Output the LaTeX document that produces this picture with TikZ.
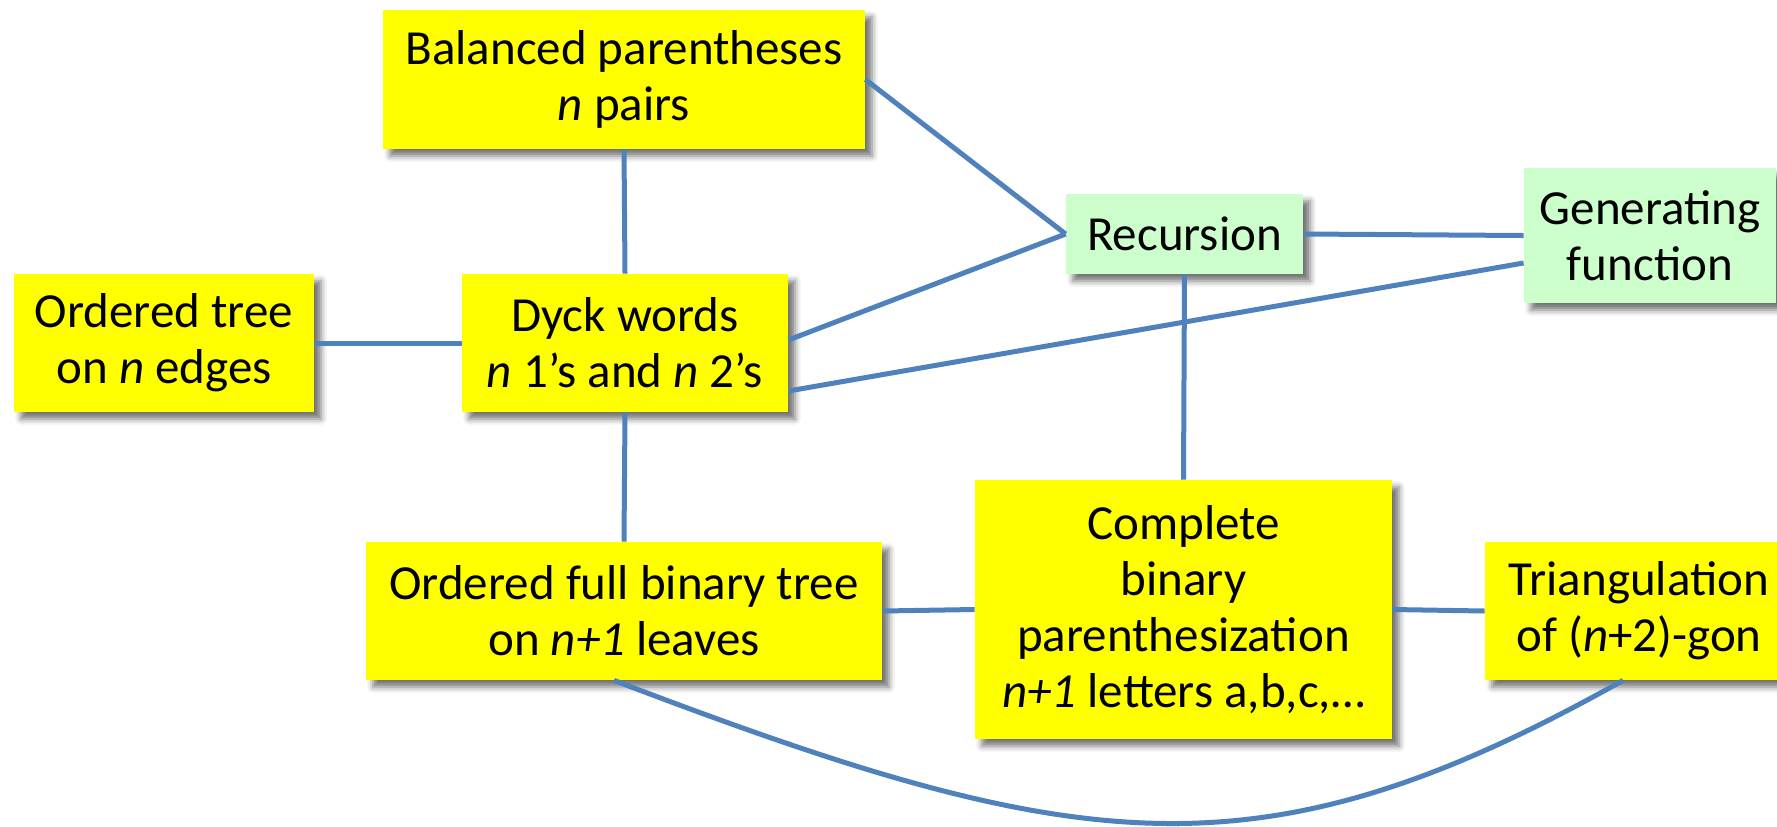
\documentclass[tikz,border=0pt]{standalone}
\usepackage{fontspec}
\setmainfont{Carlito}
\usetikzlibrary{shadows.blur}
\definecolor{boxyellow}{RGB}{255,255,0}
\definecolor{boxgreen}{RGB}{204,255,204}
\definecolor{linkblue}{RGB}{79,129,189}
\begin{document}
\begin{tikzpicture}[x=0.5pt,y=-0.5pt,
  box/.style={rectangle, inner sep=0pt, align=center,
    font=\fontsize{24.5}{28}\selectfont,
    blur shadow={shadow xshift=3.5pt, shadow yshift=-3.5pt, shadow blur radius=3pt, shadow opacity=55}},
  ybox/.style={box, fill=boxyellow},
  gbox/.style={box, fill=boxgreen},
  link/.style={draw=linkblue, line width=2.5pt}]
\useasboundingbox (0,0) rectangle (1777,826);

% concepts
\node[ybox, minimum width=241pt, minimum height=69.5pt] (bal) at (624,79.5)
  {Balanced parentheses\\\textit{n} pairs};
\node[ybox, minimum width=150pt, minimum height=69pt] (otree) at (164,343)
  {Ordered tree\\on \textit{n} edges};
\node[ybox, minimum width=163pt, minimum height=69pt] (dyck) at (625,343)
  {Dyck words\\\textit{n} 1’s and \textit{n} 2’s};
\node[gbox, minimum width=118.5pt, minimum height=40pt] (rec) at (1184.5,234)
  {Recursion};
\node[gbox, minimum width=126pt, minimum height=67.5pt] (gen) at (1650,235.5)
  {Generating\\function};
\node[ybox, minimum width=258pt, minimum height=69pt] (ofbt) at (624,611)
  {Ordered full binary tree\\on \textit{n+1} leaves};
\node[ybox, minimum width=208.5pt, minimum height=129.5pt] (comp) at (1183.5,609.5)
  {Complete\\binary\\parenthesization\\\textit{n+1} letters a,b,c,…};
\node[ybox, minimum width=154pt, minimum height=69pt] (tri) at (1639,611)
  {Triangulation\\of (\textit{n}+2)-gon};

% bijections and derivations
\draw[link] (bal.south) -- (dyck.north);
\draw[link] (otree.east) -- (dyck.west);
\draw[link] (bal.east) -- (rec.west);
\draw[link] ([yshift=1.5pt]dyck.east) -- (rec.west);
\draw[link] ([yshift=-24pt]dyck.east) -- ([yshift=-13.75pt]gen.west);
\draw[link] (rec.east) -- (gen.west);
\draw[link] (rec.south) -- (comp.north);
\draw[link] (dyck.south) -- (ofbt.north);
\draw[link] (ofbt.east) -- (comp.west);
\draw[link] (comp.east) -- (tri.west);
\draw[link] ([xshift=-5pt]ofbt.south) .. controls (1080,858) and (1260,884) .. ([xshift=-8pt]tri.south);
\end{tikzpicture}
\end{document}
